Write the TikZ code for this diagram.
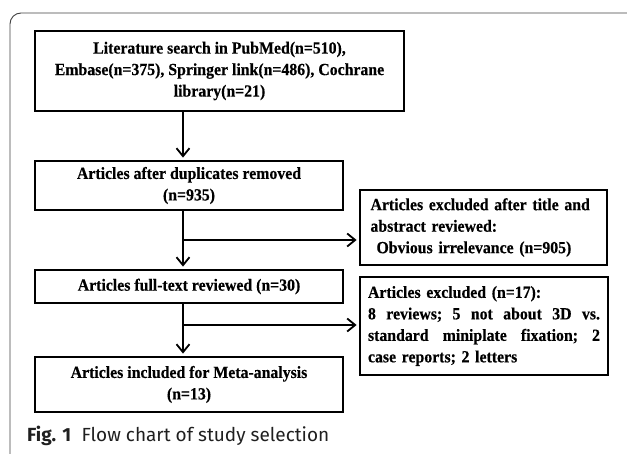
\documentclass[tikz,border=0pt]{standalone}
\usepackage{fontspec}
\setmainfont{Liberation Serif}[FakeStretch=0.93,BoldFeatures={FakeStretch=0.93,FakeBold=0.4}]
\newfontfamily\capfont{Fira Sans}
\usetikzlibrary{arrows.meta}
\newcommand{\jline}[1]{\leavevmode\makebox[232pt][l]{#1}}
\begin{document}
\begin{tikzpicture}[x=1pt,y=-1pt,
  box/.style={draw, line width=1.8pt, inner sep=0pt, font=\bfseries\fontsize{17}{21.5}\selectfont},
  arr/.style={line width=1.8pt, shorten >=2.5pt, -{Straight Barb[length=8pt,width=13pt,line width=1.8pt]}},
  frame/.style={line width=0.9pt, black!75, rounded corners=11pt},
]
\useasboundingbox (0,0) rectangle (627,453);
\draw[frame] (10,455) -- (10,13) -- (629,13);

\node[box, minimum width=369pt, minimum height=80pt, align=center] (b1) at (219.5,71)
  {Literature search in PubMed(n=510),\\Embase(n=375), Springer link(n=486), Cochrane\\library(n=21)};
\node[box, minimum width=308pt, minimum height=49pt, align=center] (b2) at (189,185.5)
  {Articles after duplicates removed\\(n=935)};
\node[box, minimum width=247pt, minimum height=75pt, text width=226pt, align=left] (b3) at (483.5,227.5)
  {Articles excluded after title and\\abstract reviewed:\\\hspace*{6pt}Obvious irrelevance (n=905)};
\node[box, minimum width=308pt, minimum height=33pt, align=center] (b4) at (189,286.5)
  {Articles full-text reviewed (n=30)};
\node[box, minimum width=248pt, minimum height=98pt, text width=232pt, align=left] (b5) at (484,326)
  {Articles excluded (n=17):\\\jline{8\hfill{} reviews;\hfill{} 5\hfill{} not\hfill{} about\hfill{} 3D\hfill{} vs.}\\\jline{standard\hfill{} miniplate\hfill{} fixation;\hfill{} 2}\\case reports; 2 letters};
\node[box, minimum width=308pt, minimum height=55pt, align=center] (b6) at (189,384.5)
  {Articles included for Meta-analysis\\(n=13)};

\coordinate (ax) at (183,0);
\draw[arr] (b1.south -| ax) -- (b2.north -| ax);
\draw[arr] (b2.south -| ax) -- (b4.north -| ax);
\draw[arr] (b4.south -| ax) -- (b6.north -| ax);
\coordinate (j1) at (183,240);
\coordinate (j2) at (183,325);
\draw[arr] (j1) -- (j1 -| b3.west);
\draw[arr] (j2) -- (j2 -| b5.west);

\node[anchor=base west, inner sep=0pt, font=\capfont\fontsize{19}{22}\selectfont, text=black!88] (cap) at (27,441)
  {\textbf{Fig. 1}\hspace{0.55em}Flow chart of study selection};
\end{tikzpicture}
\end{document}
